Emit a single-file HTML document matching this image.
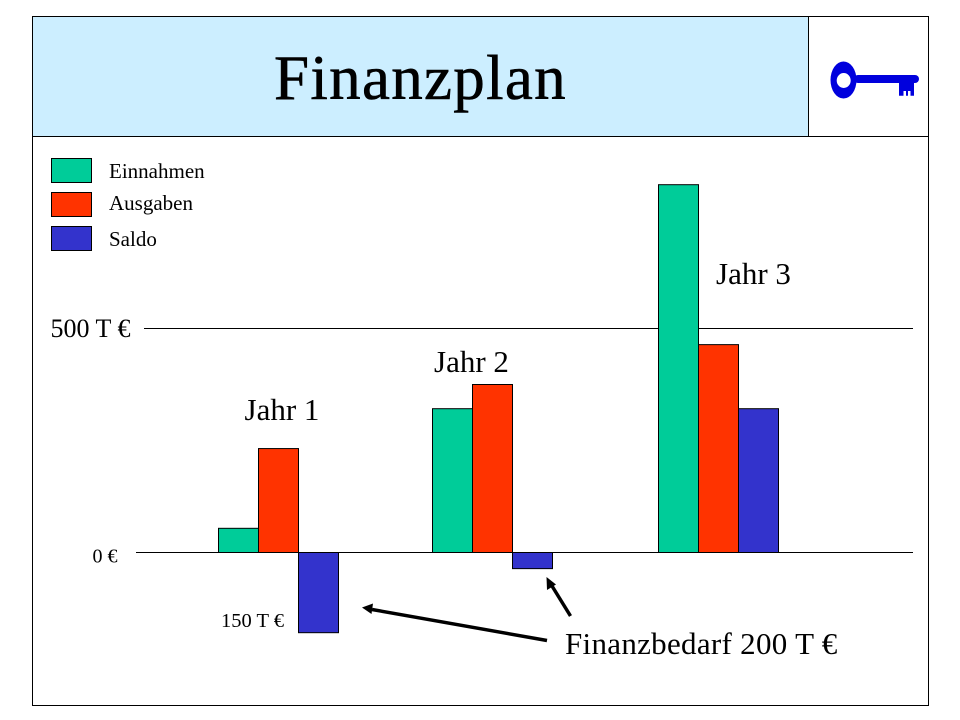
<!DOCTYPE html>
<html lang="de">
<head>
<meta charset="utf-8">
<title>Finanzplan</title>
<style>
html,body{margin:0;padding:0;background:#fff;}
svg{display:block;}
text{font-family:"Liberation Serif",serif;fill:#000;}
</style>
</head>
<body>
<svg id="chart" xmlns="http://www.w3.org/2000/svg" width="960" height="720" viewBox="0 0 960 720">
  <rect x="32.5" y="16.5" width="776" height="120" fill="#cceeff" stroke="none"/>
  <rect x="32.5" y="16.5" width="896" height="689" fill="none" stroke="#000" stroke-width="1"/>
  <line x1="32" y1="136.5" x2="929" y2="136.5" stroke="#000"/>
  <line x1="808.5" y1="16" x2="808.5" y2="136" stroke="#000"/>
  <text x="274" y="99" font-size="63" letter-spacing="1.3" stroke="#000" stroke-width="0.6">Finanzplan</text>
  <g fill="#0000dd">
    <path fill-rule="evenodd" d="M830.500 80a13 18.500 0 1 0 26 0a13 18.500 0 1 0 -26 0zM836.700 80.500a7 7.500 0 1 1 14 0a7 7.500 0 1 1 -14 0z"/>
    <rect x="854" y="75" width="65" height="8" rx="4"/>
    <path d="M899 83h15v12.700h-3.500v-4.700h-2.500v4.700h-2v-4.700h-2.500v4.700h-4.500z"/>
  </g>

  <g id="legend"></g>
  <g id="axes"></g>
  <g id="bars"></g>
  <g id="groupLabels"></g>

  <text x="221" y="627" font-size="20.500">150 T €</text>
  <g>
    <text x="565" y="654" font-size="31" letter-spacing="0.3">Finanzbedarf 200 T €</text>
    <line x1="547" y1="640.500" x2="372" y2="609.500" stroke="#000" stroke-width="3.500"/>
    <polygon points="362,607.500 373,603.500 371.500,614" fill="#000"/>
    <line x1="570.500" y1="616" x2="552" y2="586" stroke="#000" stroke-width="3.500"/>
    <polygon points="546.500,577 556,584.500 547,590" fill="#000"/>
  </g>
</svg>
<script>
const categories = ["Jahr 1", "Jahr 2", "Jahr 3"];
const seriesNames = ["Einnahmen", "Ausgaben", "Saldo"];
const einnahmen = [54, 321, 821];
const ausgaben = [232, 375, 464];
const saldo = [-179, -36, 321];
const tickValues = [0, 500];
const tickLabels = ["0 €", "500 T €"];

const NS = "http://www.w3.org/2000/svg";
const colors = ["#00cc99", "#ff3300", "#3333cc"];
const allSeries = [einnahmen, ausgaben, saldo];

function yScale(v) { return 552 - v * 224 / 500; }
function groupLeft(i) { return 218 + i * 220 + (i === 1 ? -6 : 0); }
function make(tag, attrs, parent) {
  const el = document.createElementNS(NS, tag);
  for (const k in attrs) el.setAttribute(k, attrs[k]);
  parent.appendChild(el);
  return el;
}

const barsG = document.getElementById("bars");
allSeries.forEach(function (values, s) {
  values.forEach(function (v, i) {
    const y0 = yScale(0), y1 = yScale(v);
    const r = make("rect", {
      x: groupLeft(i) + s * 40 + 0.5,
      y: Math.min(y0, y1) + 0.5,
      width: 40,
      height: Math.abs(y1 - y0),
      fill: colors[s],
      stroke: "#000",
      "stroke-width": 1
    }, barsG);
    
    
  });
});

const axesG = document.getElementById("axes");
const tickLineStart = [136, 144];
const tickTextX = [92.500, 50.500];
tickValues.forEach(function (v, i) {
  const y = yScale(v);
  const l = make("line", { x1: tickLineStart[i], x2: 913, y1: y + 0.5, y2: y + 0.5, stroke: "#000", "stroke-width": 1 }, axesG);
  
  
  const t = make("text", { x: tickTextX[i], y: y + (v === 0 ? 10.500 : 9), "font-size": v === 0 ? 20 : 26 }, axesG);
  t.textContent = tickLabels[i];
  
  
});

const legendG = document.getElementById("legend");
const legendBoxY = [158, 192, 226];
const legendTextY = [178, 210, 246];
seriesNames.forEach(function (name, s) {
  const r = make("rect", { x: 51.5, y: legendBoxY[s] + 0.5, width: 40, height: 24, fill: colors[s], stroke: "#000" }, legendG);
  
  
  const t = make("text", { x: 109, y: legendTextY[s], "font-size": 21 }, legendG);
  t.textContent = name;
  
  
});

const labelsG = document.getElementById("groupLabels");
const labelX = [244.500, 434, 716];
const labelY = [420, 372, 284];
categories.forEach(function (c, i) {
  const t = make("text", { x: labelX[i], y: labelY[i], "font-size": 31 }, labelsG);
  t.textContent = c;
  
  
});
</script>
</body>
</html>
